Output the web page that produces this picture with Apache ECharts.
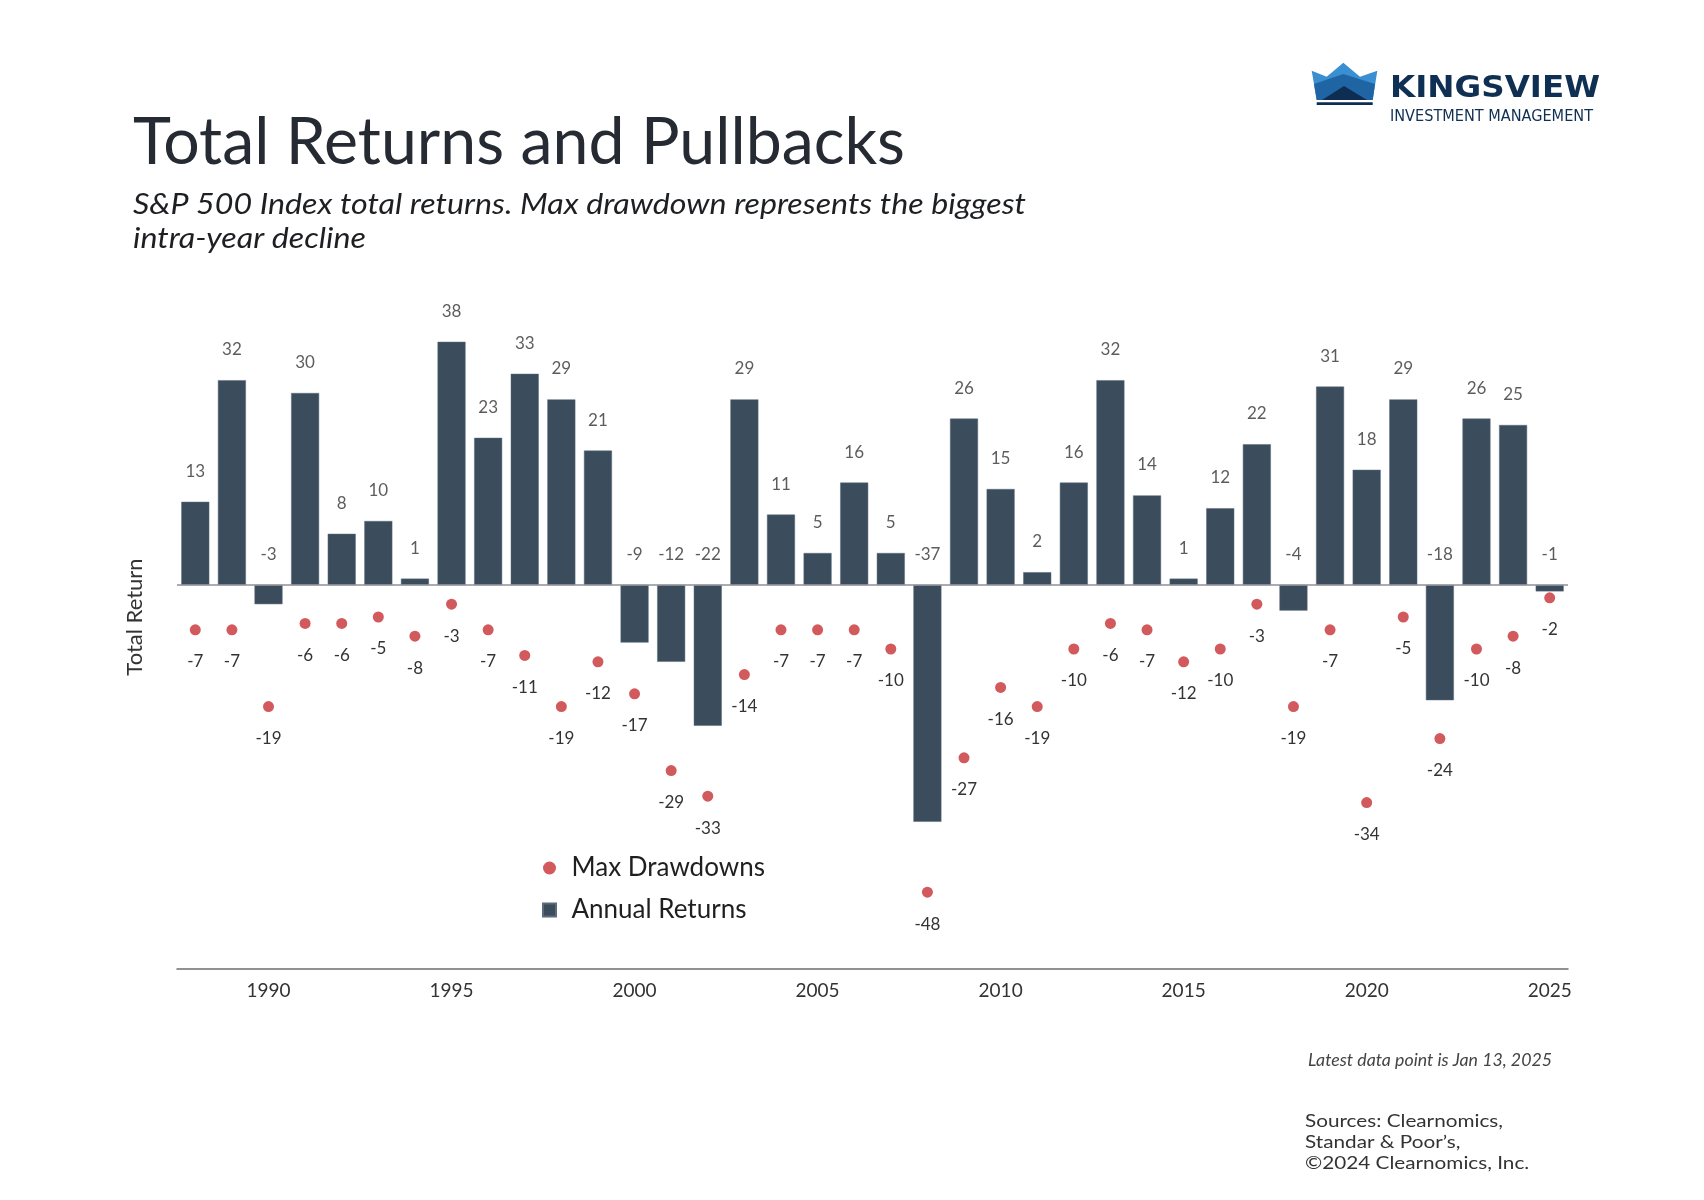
<!DOCTYPE html>
<html><head><meta charset="utf-8">
<script src="https://cdn.jsdelivr.net/npm/echarts@6/dist/echarts.min.js"></script>
<style>html,body{margin:0;padding:0;background:#fff}#c{width:1704px;height:1200px}</style>
</head><body><div id="c"></div>
<script>
const years = ['1988','1989','1990','1991','1992','1993','1994','1995','1996','1997','1998','1999','2000','2001','2002','2003','2004','2005','2006','2007','2008','2009','2010','2011','2012','2013','2014','2015','2016','2017','2018','2019','2020','2021','2022','2023','2024','2025'];
const annualReturns = [13,32,-3,30,8,10,1,38,23,33,29,21,-9,-12,-22,29,11,5,16,5,-37,26,15,2,16,32,14,1,12,22,-4,31,18,29,-18,26,25,-1];
const maxDrawdowns = [-7,-7,-19,-6,-6,-5,-8,-3,-7,-11,-19,-12,-17,-29,-33,-14,-7,-7,-7,-10,-48,-27,-16,-19,-10,-6,-7,-12,-10,-3,-19,-7,-34,-5,-24,-10,-8,-2];
const yearTickLabels = ['1990','1995','2000','2005','2010','2015','2020','2025'];

const FONT = 'Lato';
const mctx = document.createElement('canvas').getContext('2d');
function fit(text, font, target){ mctx.font = font; return target / mctx.measureText(text).width; }

function txt(text, x, y, font, fill, targetW, extra){
  const s = targetW ? fit(text, font, targetW) : 1;
  return Object.assign({type:'text', x:x, y:y, scaleX:s, silent:true,
    style:{text:text, font:font, fill:fill, textAlign:'left', textVerticalAlign:'middle'}}, extra||{});
}

const titleFont = '400 66px ' + FONT;
const subFont = 'italic 400 29px ' + FONT;
const subLine1 = 'S&P 500 Index total returns. Max drawdown represents the biggest';
const subScale = fit(subLine1, subFont, 893);
const srcFont = '400 17px ' + FONT;
const srcScale = fit('Sources: Clearnomics,', srcFont, 198);

const chart = echarts.init(document.getElementById('c'), null, {renderer:'canvas'});
chart.setOption({
  backgroundColor:'#ffffff',
  animation:false,
  grid:{left:177, right:136, top:329, bottom:231, containLabel:false},
  xAxis:{type:'category', data:years, boundaryGap:true,
    axisLine:{onZero:false, lineStyle:{color:'#6b6e72', width:1.5}},
    axisTick:{show:false},
    axisLabel:{interval:0, formatter:v => yearTickLabels.includes(v) ? v : '', margin:12,
      fontSize:19, color:'#333', fontFamily:FONT}},
  yAxis:{type:'value', min:-60, max:40, show:false},
  legend:{orient:'vertical', left:537, top:850, itemWidth:34, itemHeight:13, itemGap:16,
    textStyle:{fontSize:26, color:'#1f1f1f', fontFamily:FONT},
    data:[{name:'Max Drawdowns', icon:'circle'}, {name:'Annual Returns', icon:'path://M0,0L10,0L10,10L0,10Z'}]},
  series:[
    {name:'Annual Returns', type:'bar', data:annualReturns, barWidth:28,
      itemStyle:{color:'#3b4c5d', borderColor:'#5a6b7b', borderWidth:0.5},
      markLine:{silent:true, symbol:'none', label:{show:false},
        lineStyle:{color:'#8d9196', width:1.5, type:'solid'}, data:[{yAxis:0}]}},
    {name:'Max Drawdowns', type:'scatter', data:maxDrawdowns, symbolSize:11,
      itemStyle:{color:'#d25a5d', opacity:1},
      label:{show:true, position:'bottom', distance:18, color:'#333', fontSize:17, fontFamily:FONT}},
    {name:'labels', type:'scatter', data:annualReturns.map(v => Math.max(v,0)), symbolSize:0.1, silent:true,
      itemStyle:{color:'rgba(0,0,0,0)'},
      label:{show:true, position:'top', distance:22, color:'#333', fontSize:17, fontFamily:FONT,
        formatter:p => String(annualReturns[p.dataIndex])}}
  ],
  graphic:[
    txt('Total Returns and Pullbacks', 133, 143, titleFont, '#262b33', 772),
    txt(subLine1, 133, 205, subFont, '#1d1f22', 0, {scaleX:subScale}),
    txt('intra-year decline', 133, 239, subFont, '#1d1f22', 0, {scaleX:subScale}),
    {type:'text', x:135, y:617, rotation:Math.PI/2, silent:true,
      style:{text:'Total Return', font:'400 22px '+FONT, fill:'#333', textAlign:'center', textVerticalAlign:'middle'}},
    txt('Latest data point is Jan 13, 2025', 1308, 1061, 'italic 400 17px '+FONT, '#444', 244),
    txt('Sources: Clearnomics,', 1305, 1122, srcFont, '#333', 0, {scaleX:srcScale}),
    txt('Standar & Poor\u2019s,', 1305, 1143, srcFont, '#333', 0, {scaleX:srcScale}),
    txt('\u00a92024 Clearnomics, Inc.', 1305, 1164, srcFont, '#333', 0, {scaleX:srcScale}),
    // logo
    {type:'polygon', silent:true, shape:{points:[[1311.7,70.7],[1326.7,76.7],[1343.3,62.7],[1360,76.7],[1377.3,70.7],[1372.7,100],[1316.7,100]]}, style:{fill:'#3a8fd2'}},
    {type:'polygon', silent:true, shape:{points:[[1314,84],[1343.3,74],[1375,84],[1372.7,100],[1316.7,100]]}, style:{fill:'#1f64a3'}},
    {type:'polygon', silent:true, shape:{points:[[1322,100],[1344,86],[1367,100]]}, style:{fill:'#0e2d52'}},
    {type:'rect', silent:true, shape:{x:1316.7, y:102.2, width:56, height:2.8}, style:{fill:'#0e2d52'}},
    txt('KINGSVIEW', 1390, 89.5, '700 30px "DejaVu Sans"', '#0f2f53', 210),
    txt('INVESTMENT MANAGEMENT', 1390, 117.5, '400 15px "DejaVu Sans Condensed", "DejaVu Sans"', '#0f2f53', 203)
  ]
});
</script></body></html>
